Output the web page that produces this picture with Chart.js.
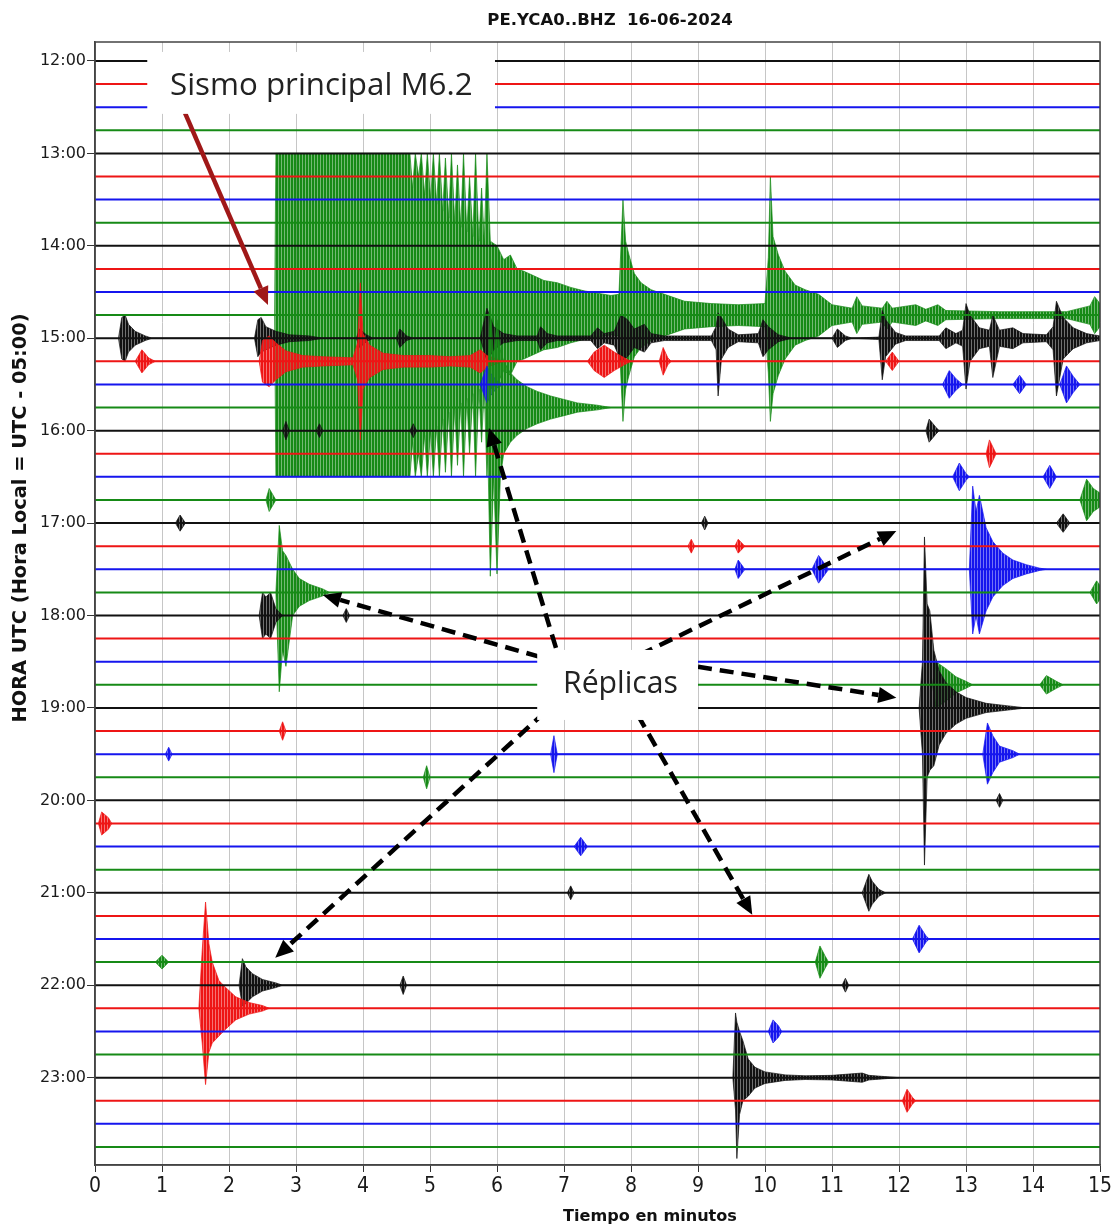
<!DOCTYPE html>
<html>
<head>
<meta charset="utf-8">
<title>PE.YCA0..BHZ 16-06-2024</title>
<script src="https://cdn.jsdelivr.net/npm/chart.js@4.4.1/dist/chart.umd.min.js"></script>
<style>
  html, body { margin: 0; padding: 0; background: #fff; }
  canvas { display: block; }
</style>
</head>
<body>
<canvas id="heli" width="1115" height="1228"></canvas>
<script>
// one trace every 15 minutes, labelled at the full hour
var hourLabels = ['12:00', '13:00', '14:00', '15:00', '16:00', '17:00',
                  '18:00', '19:00', '20:00', '21:00', '22:00', '23:00'];
var minuteTicks = [0, 1, 2, 3, 4, 5, 6, 7, 8, 9, 10, 11, 12, 13, 14, 15];

// envelope knots: [minute, amplitude up, amplitude down]
// amplitudes are in trace spacings (one row = 15 min); one value = symmetric
var ev1445 = [[2.68,0],[2.70,7],[4.70,7],[4.74,5.5],[4.78,7],[4.83,6],[4.87,7],[4.92,5.2],[4.96,7],
  [5.01,5],[5.05,7],[5.10,4.8],[5.14,7],[5.19,4.5],[5.23,6.8],[5.28,4.2],[5.32,7],[5.37,4],[5.41,6.5],
  [5.46,3.8],[5.50,7],[5.55,3.6],[5.59,6],[5.64,3.4],[5.68,7],[5.73,3.2],[5.77,5.5],[5.81,3.2],[5.85,7],
  [5.90,3.2],[6.0,3.0],[6.1,2.4],[6.2,2.6],[6.3,2.0],[6.4,1.9],[6.55,1.7],[6.7,1.5],[6.9,1.4],[7.1,1.2],
  [7.3,1.05],[7.5,0.95],[7.7,0.85],[7.82,0.9],[7.88,5,4.6],[7.92,3.2],[7.97,2.6],[8.05,1.8],[8.15,1.4],
  [8.3,1.1],[8.5,0.9],[8.8,0.6],[9.2,0.5],[9.6,0.45],[10.0,0.5],[10.05,2.5],[10.08,6,4.6],[10.12,3.4],
  [10.2,2.6],[10.3,1.9],[10.45,1.3],[10.6,1.1],[10.8,0.9],[11.0,0.45],[11.3,0.3],[11.37,0.8],[11.45,0.4],
  [11.75,0.3],[11.82,0.6],[11.9,0.3],[12.25,0.45],[12.4,0.25],[12.58,0.45],[12.7,0.2],[13.5,0.15],
  [14.5,0.15],[14.85,0.4],[14.92,0.8],[15,0.5]];
var ev1500 = [[0.35,0],[0.4,0.9],[0.45,1.0],[0.5,0.6],[0.6,0.3],[0.75,0.1],[0.85,0],
  [2.38,0],[2.43,0.8],[2.48,0.9,0.6],[2.55,0.5],[2.7,0.3],[2.9,0.15],[3.2,0.1],[3.4,0],
  [3.9,0],[3.95,0.4],[4.05,0.15],[4.15,0],[4.5,0],[4.55,0.4],[4.65,0.1],[4.75,0],
  [5.75,0],[5.85,1.3,1.0],[5.95,0.5],[6.1,0.2],[6.3,0.1],[6.6,0.1],[6.65,0.5],[6.75,0.2],[6.9,0.1],
  [7.4,0.1],[7.5,0.45],[7.6,0.2],[7.75,0.3],[7.85,1.0],[7.95,0.8],[8.05,0.4],[8.2,0.6],[8.3,0.2],
  [8.5,0.1],[9.2,0.1],[9.27,0.5],[9.3,1.1,2.5],[9.35,0.9],[9.45,0.4],[9.6,0.15],[9.9,0.2],[9.97,0.8],
  [10.05,0.5],[10.2,0.15],[10.4,0],[11.0,0],[11.08,0.4],[11.2,0.1],[11.3,0],[11.7,0.05],
  [11.75,1.2,1.8],[11.8,0.8],[11.95,0.25],[12.1,0.1],[12.6,0.1],[12.7,0.45],[12.85,0.2],[12.95,0.35],
  [13.0,1.5,2.2],[13.06,1.0],[13.2,0.45],[13.35,0.35],[13.4,1.0,1.7],[13.5,0.35],[13.7,0.45],
  [13.85,0.2],[14.2,0.15],[14.3,0.5],[14.35,1.6,2.5],[14.45,0.9],[14.6,0.45],[14.8,0.2],[15,0.1]];
var ev1515 = [[0.6,0],[0.7,0.5],[0.8,0.15],[0.9,0],
  [2.45,0],[2.5,0.9],[2.6,1.1],[2.7,0.8],[2.85,0.45],[3.1,0.25],[3.4,0.2],[3.85,0.15],[3.92,0.8],
  [3.96,3.4],[4.0,1.2],[4.1,0.7],[4.3,0.35],[4.6,0.25],[5.0,0.25],[5.3,0.2],[5.6,0.25],[5.75,0.5],
  [5.85,0.25],[6.0,0.1],[6.1,0],[7.35,0],[7.45,0.4],[7.6,0.7],[7.75,0.4],[7.9,0.15],[8.0,0],
  [8.42,0],[8.48,0.6],[8.55,0.15],[8.6,0],[11.8,0],[11.9,0.4],[12.0,0]];
var ev1530 = [[5.75,0],[5.85,0.8],[5.9,0.5],[6.0,0.15],[6.1,0],[12.65,0],[12.75,0.6],[12.85,0.25],
  [12.95,0],[13.7,0],[13.8,0.4],[13.9,0],[14.4,0],[14.5,0.8],[14.6,0.35],[14.7,0]];
var ev1545 = [[5.85,0],[5.9,4.5,7.3],[5.95,2,3],[6.0,3.8,7.2],[6.05,2.5,3],[6.1,2],[6.2,1.5],
  [6.3,1.2],[6.45,0.9],[6.6,0.7],[6.8,0.5],[7.0,0.35],[7.2,0.2],[7.5,0.1],[7.7,0]];
var ev1600 = [[2.8,0],[2.85,0.4],[2.9,0],[3.3,0],[3.35,0.3],[3.4,0],[4.7,0],[4.75,0.3],[4.8,0],
  [12.4,0],[12.45,0.5],[12.55,0.15],[12.6,0]];
var ev1615 = [[13.3,0],[13.35,0.6],[13.45,0]];
var ev1630 = [[12.8,0],[12.9,0.6],[13.0,0.15],[13.05,0],[14.15,0],[14.25,0.5],[14.35,0]];
var ev1645 = [[2.55,0],[2.6,0.5],[2.7,0],[14.7,0],[14.8,0.9],[14.9,0.5],[15,0.3]];
var ev1700 = [[1.2,0],[1.27,0.35],[1.35,0],[9.05,0],[9.1,0.3],[9.15,0],[14.35,0],[14.45,0.4],[14.55,0]];
var ev1715 = [[8.85,0],[8.9,0.3],[8.95,0],[9.55,0],[9.6,0.3],[9.7,0]];
var ev1730 = [[9.55,0],[9.6,0.4],[9.7,0],[10.7,0],[10.8,0.6],[10.95,0],
  [13.05,0],[13.1,3.6,2.8],[13.15,2.5,2.0],[13.2,3.2,2.8],[13.3,1.8],[13.4,1.2],[13.55,0.7],
  [13.7,0.4],[13.9,0.2],[14.1,0.05],[14.2,0]];
var ev1745 = [[2.7,0],[2.75,2.9,4.3],[2.8,1.8,2.5],[2.85,1.6,3.2],[2.95,1.0],[3.05,0.6],[3.2,0.35],
  [3.4,0.15],[3.5,0],[14.85,0],[14.95,0.5],[15,0.3]];
var ev1800 = [[2.45,0],[2.5,1.0],[2.55,0.8],[2.62,1.0],[2.7,0.3],[2.8,0],[3.7,0],[3.75,0.3],[3.8,0]];
var ev1845 = [[12.5,0],[12.55,1.0],[12.7,0.7],[12.85,0.35],[13.0,0.15],[13.1,0],
  [14.1,0],[14.2,0.4],[14.35,0.15],[14.45,0]];
var ev1900 = [[12.3,0],[12.35,2],[12.38,7.4,6.8],[12.42,4.5,3],[12.46,4.2,2.7],[12.52,2.5],[12.6,1.6],
  [12.7,1.1],[12.85,0.7],[13.0,0.45],[13.3,0.2],[13.6,0.1],[13.9,0]];
var ev1915 = [[2.75,0],[2.8,0.4],[2.85,0]];
var ev1930 = [[1.05,0],[1.1,0.3],[1.15,0],[6.8,0],[6.85,0.8],[6.9,0],
  [13.25,0],[13.32,1.35,1.3],[13.4,0.8],[13.5,0.35],[13.7,0.15],[13.8,0]];
var ev1945 = [[4.9,0],[4.95,0.5],[5.0,0]];
var ev2000 = [[13.45,0],[13.5,0.3],[13.55,0]];
var ev2015 = [[0.05,0],[0.1,0.5],[0.2,0.25],[0.25,0]];
var ev2030 = [[7.15,0],[7.25,0.4],[7.35,0]];
var ev2100 = [[7.05,0],[7.1,0.3],[7.15,0],[11.45,0],[11.55,0.8],[11.6,0.5],[11.7,0.15],[11.8,0]];
var ev2130 = [[12.2,0],[12.3,0.6],[12.4,0.15],[12.45,0]];
var ev2145 = [[0.9,0],[1.0,0.3],[1.1,0],[10.75,0],[10.82,0.7],[10.9,0.25],[10.95,0]];
var ev2200 = [[2.15,0],[2.2,1.15,0.9],[2.25,0.8],[2.35,0.5],[2.5,0.25],[2.7,0.1],[2.8,0],
  [4.55,0],[4.6,0.4],[4.65,0],[11.15,0],[11.2,0.3],[11.25,0]];
var ev2215 = [[1.55,0],[1.6,2.5,1.5],[1.65,4.6,3.3],[1.7,2.8,1.9],[1.75,2.0,1.5],[1.85,1.2],
  [1.95,0.9],[2.1,0.5],[2.3,0.25],[2.5,0.12],[2.6,0]];
var ev2230 = [[10.05,0],[10.12,0.5],[10.2,0.25],[10.25,0]];
var ev2300 = [[9.52,0],[9.56,2.8,1.4],[9.58,2.4,3.5],[9.62,2.0,1.6],[9.67,1.6,1.0],[9.75,0.8],
  [9.85,0.45],[10.0,0.25],[10.3,0.12],[10.6,0.08],[11.0,0.1],[11.45,0.2],[11.55,0.1],[12.0,0]];
var ev2315 = [[12.05,0],[12.12,0.5],[12.2,0.15],[12.25,0]];

// row index (0 = 12:00) -> envelope
var eventTable = [
  [11, ev1445], [12, ev1500], [13, ev1515], [14, ev1530], [15, ev1545], [16, ev1600],
  [17, ev1615], [18, ev1630], [19, ev1645], [20, ev1700], [21, ev1715], [22, ev1730],
  [23, ev1745], [24, ev1800], [27, ev1845], [28, ev1900], [29, ev1915], [30, ev1930],
  [31, ev1945], [32, ev2000], [33, ev2015], [34, ev2030], [36, ev2100], [38, ev2130],
  [39, ev2145], [40, ev2200], [41, ev2215], [42, ev2230], [44, ev2300], [45, ev2315]
];

var traceColors = ['#111111', '#ee1515', '#1515ee', '#168a16'];
var nRows = hourLabels.length * 4;

// vertical-stroke texture so the filled envelopes read like dense wiggles
function strokes(color) {
  var c = document.createElement('canvas');
  c.width = 3; c.height = 1;
  var g = c.getContext('2d');
  g.fillStyle = color;
  g.fillRect(0, 0, 2, 1);
  g.globalAlpha = 0.6;
  g.fillRect(2, 0, 1, 1);
  return g.createPattern(c, 'repeat');
}
var patterns = traceColors.map(strokes);

var datasets = [];
for (var r = 0; r < nRows; r++) {
  datasets.push({
    data: [{x: minuteTicks[0], y: r}, {x: minuteTicks[minuteTicks.length - 1], y: r}],
    showLine: true, borderColor: traceColors[r % 4], borderWidth: 2, order: 0
  });
}
eventTable.forEach(function (e) {
  var row = e[0], col = traceColors[row % 4];
  var up = e[1].map(function (k) { return {x: k[0], y: row - k[1]}; });
  var dn = e[1].map(function (k) { return {x: k[0], y: row + (k.length > 2 ? k[2] : k[1])}; });
  [up, dn].forEach(function (pts) {
    datasets.push({
      data: pts, showLine: true, borderColor: col, backgroundColor: patterns[row % 4],
      borderWidth: 0.7, fill: {value: row}, order: 100 - row
    });
  });
});

// call-outs, positioned in minutes / rows
var notes = {
  mainBox: [0.78, -0.39, 5.97, 2.29], mainText: 'Sismo principal M6.2', mainAt: [1.12, 1.47, 4.52],
  repBox: [6.60, 25.49, 9.00, 28.52], repText: 'Réplicas', repAt: [6.985, 27.35, 1.715],
  redArrow: [1.343, 2.25, 2.582, 10.56],
  dashArrows: [
    [6.64, 25.79, 3.40, 23.11],
    [6.88, 25.40, 5.88, 15.88],
    [8.13, 25.70, 11.96, 20.34],
    [9.00, 26.22, 11.96, 27.56],
    [8.10, 28.30, 9.81, 36.95],
    [6.72, 28.17, 2.69, 38.81]
  ]
};

function fitFont(ctx, text, width, style) {
  ctx.font = style + ' 100px ' + (style ? '"DejaVu Sans"' : '"Open Sans", "Noto Sans", sans-serif');
  return 100 * width / ctx.measureText(text).width;
}

function arrow(ctx, x0, y0, x1, y1, color, dash) {
  var a = Math.atan2(y1 - y0, x1 - x0), L = 18, W = 8;
  var bx = x1 - L * Math.cos(a), by = y1 - L * Math.sin(a);
  ctx.save();
  ctx.strokeStyle = color;
  ctx.fillStyle = color;
  ctx.lineWidth = 4.5;
  ctx.setLineDash(dash || []);
  ctx.beginPath(); ctx.moveTo(x0, y0); ctx.lineTo(bx, by); ctx.stroke();
  ctx.setLineDash([]);
  ctx.beginPath();
  ctx.moveTo(x1, y1);
  ctx.lineTo(bx + W * Math.sin(a), by - W * Math.cos(a));
  ctx.lineTo(bx - W * Math.sin(a), by + W * Math.cos(a));
  ctx.closePath(); ctx.fill();
  ctx.restore();
}

var overlay = {
  id: 'overlay',
  afterDraw: function (chart) {
    var ctx = chart.ctx, xs = chart.scales.x, ys = chart.scales.y, ca = chart.chartArea;
    var px = function (v) { return xs.getPixelForValue(v); };
    var py = function (v) { return ys.getPixelForValue(v); };

    ctx.save();
    ctx.strokeStyle = '#444';
    ctx.lineWidth = 1.5;
    ctx.strokeRect(ca.left, ca.top, ca.right - ca.left, ca.bottom - ca.top);

    var red = notes.redArrow;
    arrow(ctx, px(red[0]), py(red[1]), px(red[2]), py(red[3]), '#a01818');
    notes.dashArrows.forEach(function (d) {
      arrow(ctx, px(d[0]), py(d[1]), px(d[2]), py(d[3]), '#000', [14, 8]);
    });

    [[notes.mainBox, notes.mainText, notes.mainAt], [notes.repBox, notes.repText, notes.repAt]].forEach(function (n) {
      var b = n[0];
      ctx.fillStyle = '#fff';
      ctx.fillRect(px(b[0]), py(b[1]), px(b[2]) - px(b[0]), py(b[3]) - py(b[1]));
      var w = px(n[2][0] + n[2][2]) - px(n[2][0]);
      var size = fitFont(ctx, n[1], w, '');
      ctx.font = size.toFixed(1) + 'px "Open Sans", "Noto Sans", sans-serif';
      ctx.fillStyle = '#222';
      ctx.textAlign = 'left';
      ctx.textBaseline = 'alphabetic';
      ctx.fillText(n[1], px(n[2][0]), py(n[2][1]));
    });

    // titles
    ctx.fillStyle = '#111';
    ctx.textAlign = 'center';
    ctx.textBaseline = 'alphabetic';
    var t = 'PE.YCA0..BHZ  16-06-2024';
    ctx.font = 'bold ' + fitFont(ctx, t, 245, 'bold').toFixed(1) + 'px "DejaVu Sans"';
    ctx.fillText(t, 610, 25);
    t = 'Tiempo en minutos';
    ctx.font = 'bold ' + fitFont(ctx, t, 174, 'bold').toFixed(1) + 'px "DejaVu Sans"';
    ctx.fillText(t, 650, 1221);
    t = 'HORA UTC (Hora Local = UTC - 05:00)';
    ctx.font = 'bold ' + fitFont(ctx, t, 410, 'bold').toFixed(1) + 'px "DejaVu Sans"';
    ctx.translate(26, 518);
    ctx.rotate(-Math.PI / 2);
    ctx.fillText(t, 0, 0);
    ctx.restore();
  }
};

new Chart(document.getElementById('heli').getContext('2d'), {
  type: 'scatter',
  data: {datasets: datasets},
  options: {
    responsive: false,
    animation: false,
    events: [],
    layout: {padding: {top: 42, right: 15, left: 0, bottom: 0}},
    elements: {point: {radius: 0}, line: {tension: 0}},
    plugins: {legend: {display: false}, tooltip: {enabled: false}},
    scales: {
      x: {
        type: 'linear', min: 0, max: 15,
        afterFit: function (s) { s.height = 63; },
        afterBuildTicks: function (s) { s.ticks = minuteTicks.map(function (v) { return {value: v}; }); },
        ticks: {color: '#1a1a1a', padding: 2,
                font: {family: '"Liberation Sans Narrow", "DejaVu Sans Condensed", sans-serif', size: 21}},
        grid: {color: '#c6c6c6', lineWidth: 1, tickColor: '#333', tickLength: 7},
        border: {color: '#444', width: 1.5}
      },
      y: {
        type: 'linear', reverse: true, min: -0.82, max: 47.78,
        afterFit: function (s) { s.width = 95; },
        afterBuildTicks: function (s) { s.ticks = hourLabels.map(function (l, i) { return {value: i * 4}; }); },
        ticks: {color: '#1a1a1a', padding: 1, font: {family: '"DejaVu Sans"', size: 16},
                callback: function (v) { return hourLabels[Math.round(v / 4)]; }},
        grid: {drawOnChartArea: false, tickColor: '#333', tickLength: 8},
        border: {color: '#444', width: 1.5}
      }
    }
  },
  plugins: [overlay]
});
</script>
</body>
</html>
